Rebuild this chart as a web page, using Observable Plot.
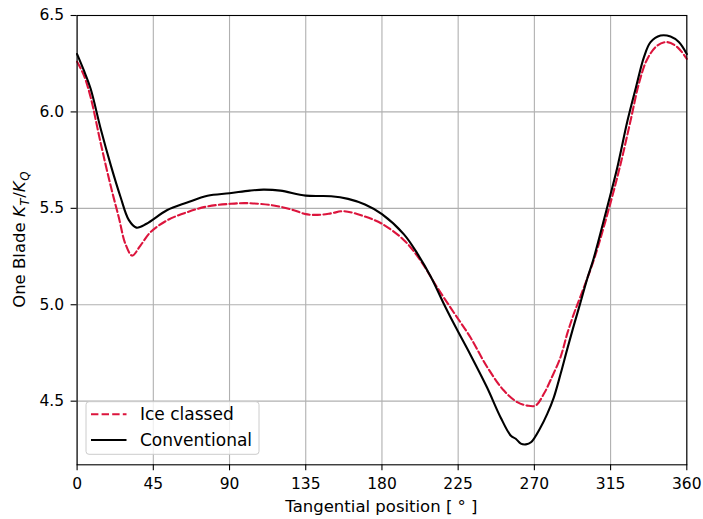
<!DOCTYPE html>
<html>
<head>
<meta charset="utf-8">
<script src="https://cdn.jsdelivr.net/npm/d3@7"></script>
<script src="https://cdn.jsdelivr.net/npm/@observablehq/plot@0.6"></script>
<style>
  html, body { margin: 0; padding: 0; background: white; }
  svg { display: block; }
</style>
</head>
<body>
<div id="chart"></div>
<script>
// ---- Data ----
const seriesNames = ["Ice classed", "Conventional"];

const iceAngle = [0, 4, 8, 14, 20, 24.6, 28.5, 32.5, 37.4, 43.3, 53, 65, 77, 90, 100, 116, 128, 135, 142, 150, 157.5, 169, 180, 193, 202.8, 212.6, 222.4, 232.3, 242.2, 252, 259.9, 265.8, 270.7, 275.6, 279.6, 285.5, 289.4, 293.3, 297.3, 305.2, 314, 320.9, 326.8, 331.7, 336.7, 342.6, 348.5, 354.4, 360];
const iceValue = [6.26, 6.19, 6.076, 5.835, 5.61, 5.454, 5.316, 5.255, 5.307, 5.376, 5.437, 5.48, 5.51, 5.523, 5.527, 5.515, 5.49, 5.47, 5.466, 5.474, 5.485, 5.46, 5.42, 5.335, 5.229, 5.09, 4.96, 4.83, 4.676, 4.555, 4.495, 4.477, 4.477, 4.538, 4.61, 4.73, 4.85, 4.953, 5.045, 5.235, 5.498, 5.73, 5.955, 6.146, 6.275, 6.344, 6.362, 6.336, 6.275];

const convAngle = [0, 4, 8, 14, 20, 25.6, 30.5, 35, 41, 53, 65, 77, 90, 102, 110, 120, 135, 150, 160, 170, 180, 193, 201, 209, 216.5, 220.5, 225, 232, 242, 250, 256, 259, 262, 265, 268, 273.7, 277.6, 281.5, 285.5, 289.4, 293.3, 297.3, 301.2, 305, 313, 319, 325, 330, 334.7, 338.6, 344.5, 350.4, 355.3, 360];
const convValue = [6.30, 6.215, 6.12, 5.91, 5.72, 5.56, 5.44, 5.40, 5.42, 5.49, 5.53, 5.565, 5.578, 5.592, 5.597, 5.592, 5.566, 5.563, 5.549, 5.52, 5.47, 5.365, 5.264, 5.143, 5.005, 4.935, 4.86, 4.745, 4.572, 4.417, 4.322, 4.305, 4.28, 4.276, 4.287, 4.365, 4.434, 4.52, 4.642, 4.77, 4.893, 5.014, 5.135, 5.24, 5.506, 5.713, 5.955, 6.128, 6.284, 6.362, 6.396, 6.391, 6.362, 6.30];

const xTicks = [0, 45, 90, 135, 180, 225, 270, 315, 360];
const yTicks = [4.5, 5.0, 5.5, 6.0, 6.5];
const xTickLabels = ["0", "45", "90", "135", "180", "225", "270", "315", "360"];
const yTickLabels = ["4.5", "5.0", "5.5", "6.0", "6.5"];

// ---- Build tables ----
const ice = iceAngle.map((a, i) => ({angle: a, value: iceValue[i]}));
const conv = convAngle.map((a, i) => ({angle: a, value: convValue[i]}));

const FONT = "DejaVu Sans";
const FS_TICK = 15.5;
const FS_LABEL = 16.5;
const FS_LEGEND = 17;

const chart = Plot.plot({
  width: 703,
  height: 519,
  marginLeft: 76.6,
  marginRight: 16.7,
  marginTop: 15,
  marginBottom: 54.7,
  style: {fontFamily: FONT, fontSize: FS_TICK + "px", color: "black", background: "white", overflow: "visible"},
  x: {domain: [0, 360]},
  y: {domain: [4.17, 6.5]},
  marks: [
    Plot.gridX(xTicks, {stroke: "#b0b0b0", strokeOpacity: 1, strokeWidth: 1.1}),
    Plot.gridY(yTicks, {stroke: "#b0b0b0", strokeOpacity: 1, strokeWidth: 1.1}),
    Plot.line(ice, {x: "angle", y: "value", stroke: "#dc143c", strokeWidth: 2.1, strokeDasharray: "7.4,3.2", curve: "catmull-rom"}),
    Plot.line(conv, {x: "angle", y: "value", stroke: "black", strokeWidth: 2.1, curve: "catmull-rom"}),
    Plot.frame({stroke: "black", strokeWidth: 1.1}),
    Plot.axisX(xTicks, {tickSize: 6, tickPadding: 7.5, strokeWidth: 1.1, tickFormat: (d, i) => xTickLabels[i], label: null, fontSize: FS_TICK}),
    Plot.axisY(yTicks, {tickSize: 6, tickPadding: 7, strokeWidth: 1.1, tickFormat: (d, i) => yTickLabels[i], label: null, fontSize: FS_TICK})
  ]
});

document.getElementById("chart").appendChild(chart);

// ---- Axis labels & legend (real text) ----
const svg = d3.select(chart);
const xs = chart.scale("x"), ys = chart.scale("y");

// x label
svg.append("text")
  .attr("x", (xs.apply(0) + xs.apply(360)) / 2)
  .attr("y", 512)
  .attr("text-anchor", "middle")
  .attr("font-family", FONT)
  .attr("font-size", FS_LABEL)
  .attr("fill", "black")
  .text("Tangential position [ ° ]");

// y label with math subscripts
const yl = svg.append("text")
  .attr("transform", `translate(25,${(ys.apply(6.5) + ys.apply(4.17)) / 2}) rotate(-90)`)
  .attr("text-anchor", "middle")
  .attr("font-family", FONT)
  .attr("font-size", FS_LABEL)
  .attr("fill", "black");
yl.append("tspan").text("One Blade ");
yl.append("tspan").attr("font-style", "italic").text("K");
yl.append("tspan").attr("font-style", "italic").attr("font-size", FS_LABEL * 0.72).attr("dy", 3.5).attr("dx", 0.5).text("T");
yl.append("tspan").attr("dy", -3.5).attr("dx", 0.8).text("/");
yl.append("tspan").attr("font-style", "italic").text("K");
yl.append("tspan").attr("font-style", "italic").attr("font-size", FS_LABEL * 0.72).attr("dy", 3.5).attr("dx", 0.5).text("Q");

// legend
const lg = svg.append("g").attr("text-anchor", "start");
lg.append("rect")
  .attr("x", 86).attr("y", 401.7).attr("width", 173).attr("height", 52.6)
  .attr("rx", 3).attr("fill", "white").attr("fill-opacity", 0.8)
  .attr("stroke", "#cccccc").attr("stroke-width", 1);
const rows = [
  {name: seriesNames[0], color: "#dc143c", dash: "7.4,3.2", cy: 414.3},
  {name: seriesNames[1], color: "black", dash: null, cy: 440}
];
rows.forEach(r => {
  lg.append("line")
    .attr("x1", 91).attr("x2", 126.5).attr("y1", r.cy).attr("y2", r.cy)
    .attr("stroke", r.color).attr("stroke-width", 2.1)
    .attr("stroke-dasharray", r.dash);
  lg.append("text")
    .attr("x", 140).attr("y", r.cy + 6)
    .attr("text-anchor", "start")
    .attr("font-family", FONT).attr("font-size", FS_LEGEND).attr("fill", "black")
    .text(r.name);
});
</script>
</body>
</html>
